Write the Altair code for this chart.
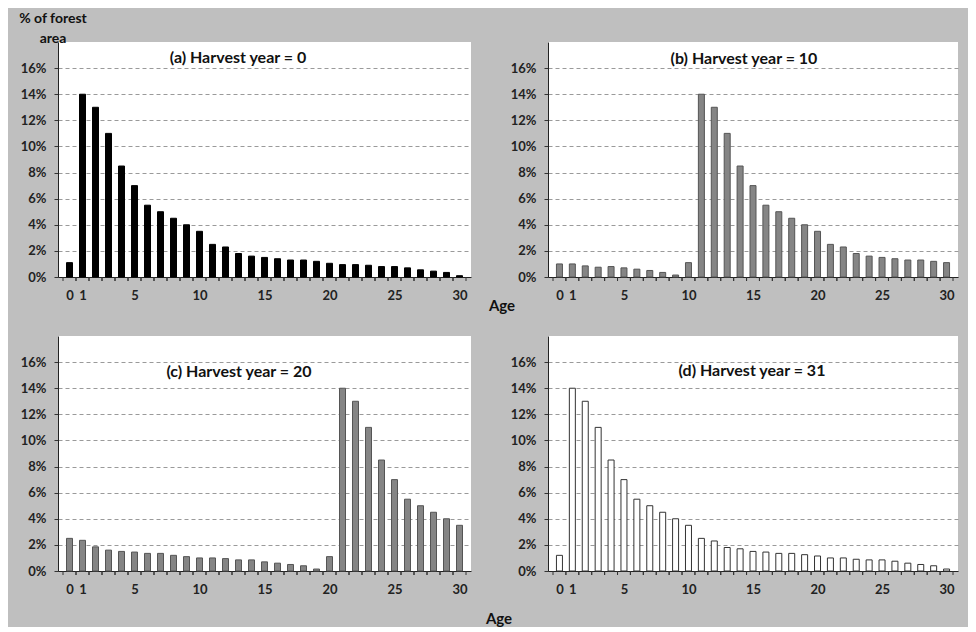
import altair as alt
import pandas as pd

# ---------------- data ----------------
ages = list(range(31))
share_a = [1.1, 14, 13, 11, 8.5, 7, 5.5, 5, 4.5, 4, 3.5, 2.5, 2.3, 1.8, 1.6, 1.5,
           1.4, 1.3, 1.3, 1.2, 1.05, 0.95, 0.95, 0.9, 0.8, 0.8, 0.7, 0.55, 0.45, 0.35, 0.1]
share_b = [1.0, 1.0, 0.85, 0.75, 0.8, 0.7, 0.6, 0.5, 0.35, 0.15, 1.1, 14, 13, 11, 8.5, 7,
           5.5, 5, 4.5, 4, 3.5, 2.5, 2.3, 1.8, 1.6, 1.5, 1.4, 1.3, 1.3, 1.2, 1.1]
share_c = [2.5, 2.35, 1.85, 1.6, 1.5, 1.45, 1.35, 1.35, 1.2, 1.1, 1.0, 1.0, 0.95, 0.85, 0.85, 0.7,
           0.6, 0.5, 0.4, 0.15, 1.1, 14, 13, 11, 8.5, 7, 5.5, 5, 4.5, 4, 3.5]
share_d = [1.2, 14, 13, 11, 8.5, 7, 5.5, 5, 4.5, 4, 3.5, 2.5, 2.3, 1.8, 1.7, 1.5,
           1.45, 1.35, 1.35, 1.25, 1.15, 1.0, 1.0, 0.9, 0.85, 0.85, 0.75, 0.6, 0.5, 0.4, 0.15]
titles = ["(a) Harvest year = 0", "(b) Harvest year = 10",
          "(c) Harvest year = 20", "(d) Harvest year = 31"]
x_labels = [0, 1, 5, 10, 15, 20, 25, 30]
y_ticks = [0, 2, 4, 6, 8, 10, 12, 14, 16]
y_title = "% of forest\narea"
x_title = "Age"

FONT = "Lato"
H = 235


def panel(values, title, fill, stroke, w, tx, ty, extras=()):
    df = pd.DataFrame({"age": ages, "share": values})
    xscale = alt.Scale(domain=[-0.5, 30.5], nice=False, zero=False)
    x = alt.X(
        "age:Q",
        scale=xscale,
        axis=alt.Axis(
            values=x_labels,
            labelOverlap=False,
            labelFlush=False,
            grid=False,
            ticks=False,
            title=None,
            labelPadding=12,
        ),
    )
    y = alt.Y(
        "share:Q",
        scale=alt.Scale(domain=[0, 18], nice=False),
        axis=alt.Axis(
            values=y_ticks,
            labelExpr="datum.value + '%'",
            grid=True,
            gridDash=[4, 3],
            gridColor="#9a9a9a",
            title=None,
            tickSize=4,
            labelPadding=8,
        ),
    )
    bars = alt.Chart(df).mark_bar(size=6, fill=fill, stroke=stroke, strokeWidth=1).encode(x=x, y=y)
    # category-boundary tick marks under the axis line (Excel style)
    ticks_l = alt.Chart(df).transform_calculate(b="datum.age - 0.5").mark_rule(
        color="#333", strokeWidth=1
    ).encode(x=alt.X("b:Q", scale=xscale), y=alt.value(H), y2=alt.value(H + 4))
    ticks_r = alt.Chart(df).transform_calculate(b="datum.age + 0.5").mark_rule(
        color="#333", strokeWidth=1
    ).encode(x=alt.X("b:Q", scale=xscale), y=alt.value(H), y2=alt.value(H + 4))
    ttl = alt.Chart(pd.DataFrame({"t": [title]})).mark_text(
        font=FONT, fontSize=16, fontWeight="bold", color="#111", align="center", baseline="middle"
    ).encode(x=alt.value(tx), y=alt.value(ty), text="t:N")
    layers = [bars, ticks_l, ticks_r, ttl] + list(extras)
    return alt.layer(*layers).properties(width=w, height=H)


def note(txt, px, py, size=15, baseline="middle"):
    return alt.Chart(pd.DataFrame({"t": [txt]})).mark_text(
        font=FONT, fontSize=size, fontWeight="bold", color="#111", align="center",
        baseline=baseline, lineBreak="\n", lineHeight=20
    ).encode(x=alt.value(px), y=alt.value(py), text="t:N")


pa = panel(share_a, titles[0], "#000000", "#000000", 413, 180, 16,
           extras=[note(y_title, -5, -30, size=14, baseline="top")])
pb = panel(share_b, titles[1], "#858585", "#555555", 410, 196, 17,
           extras=[note(x_title, -46, 264)])
pc = panel(share_c, titles[2], "#858585", "#555555", 413, 181, 36)
pd_ = panel(share_d, titles[3], "#ffffff", "#333333", 410, 204, 35,
            extras=[note(x_title, -49, 283)])

chart = alt.concat(pa, pb, pc, pd_, columns=2, spacing={"row": 59, "column": 77},
                   bounds="flush").properties(
    padding={"left": 11, "top": 4, "right": 10, "bottom": 0},
    background="#bfbfbf",
).configure_view(
    fill="white", strokeWidth=0
).configure_axis(
    labelFont=FONT, labelFontSize=13, labelFontWeight="bold", labelColor="#222",
    domainColor="#222", tickColor="#333", domainWidth=1,
)

chart.save("out.html", embed_options={"renderer": "svg", "actions": False})
